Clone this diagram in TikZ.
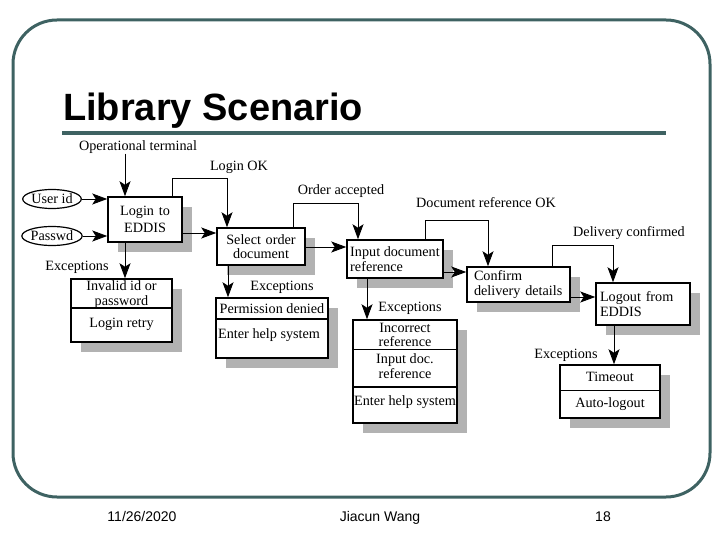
\documentclass[tikz,border=0pt]{standalone}
\usepackage{fontspec}
\setmainfont{Liberation Serif}
\setsansfont{Liberation Sans}
\usepackage{tikz}
\usetikzlibrary{arrows.meta,shapes.geometric,shadows}
\definecolor{slate}{RGB}{62,98,98}
\definecolor{shade}{RGB}{178,178,178}
\newcommand{\dfont}{\fontsize{14.2}{14.5}\selectfont}

\begin{document}
\begin{tikzpicture}[x=1pt,y=-1pt,>={Stealth[length=15pt,width=11pt,inset=3.5pt]},
  stage/.style={draw,line width=1.5pt,fill=white,inner xsep=4pt,inner ysep=0pt,font=\dfont,
    drop shadow={shadow xshift=10pt,shadow yshift=-10pt,fill=shade,opacity=1}},
  oval/.style={draw,ellipse,line width=1.2pt,inner sep=0pt,minimum width=50pt,minimum height=19pt,font=\dfont},
  lbl/.style={inner sep=0pt,font=\dfont,align=center},
  foot/.style={anchor=base,font=\sffamily\fontsize{14}{16}\selectfont},
  flow/.style={line width=0.9pt}]
  \useasboundingbox (0,0) rectangle (720,540);
  % slide frame, heading and footer
  \draw[slate,line width=3pt,rounded corners=44pt] (13,20) rectangle (710,497);
  \draw[slate,line width=4pt] (62,133) -- (666,133);
  \node[anchor=base west,inner sep=0pt,font=\sffamily\bfseries\fontsize{38}{40}\selectfont] (title) at (63,121) {Library Scenario};
  \node[foot] (date) at (142,521) {11/26/2020};
  \node[foot] (author) at (380,521) {Jiacun Wang};
  \node[foot] (page) at (603,521) {18};

  % inputs
  \node[oval] (userid) at (52,199) {User id};
  \node[oval] (passwd) at (52,236) {Passwd};
  \node[lbl] (opterm) at (138,147) {Operational terminal};

  % main stages
  \node[stage,text width=66pt,minimum height=45pt,align=center] (login) at (145,219.5) {Login to\\[3pt]EDDIS};
  \node[stage,text width=80pt,minimum height=37pt,align=center] (select) at (261,246.5) {Select order\\document};
  \node[stage,inner xsep=2pt,minimum width=96pt,minimum height=38pt,align=left] (input) at (395,259) {Input document\\reference};
  \node[stage,inner xsep=7pt,text width=89pt,minimum height=35pt,align=left] (confirm) at (518.5,284.5) {Confirm\\delivery details};
  \node[stage,text width=86pt,minimum height=42pt,align=left] (logout) at (643,304) {Logout from\\EDDIS};

  % exception boxes
  \node[stage,minimum width=101pt,minimum height=63pt] (invalid) at (121.5,310.5) {};
  \node[stage,minimum width=112pt,minimum height=60pt] (perm) at (272,328) {};
  \node[stage,minimum width=104pt,minimum height=103pt] (wrongref) at (405,371.5) {};
  \node[stage,minimum width=100pt,minimum height=53pt] (timeout) at (610,391.5) {};

  \draw[line width=1.5pt] (invalid.west |- 0,308) -- (invalid.east |- 0,308);
  \draw[line width=1.5pt] (perm.west |- 0,319) -- (perm.east |- 0,319);
  \draw[line width=0.8pt] (wrongref.west |- 0,349) -- (wrongref.east |- 0,349);
  \draw[line width=1.5pt] (wrongref.west |- 0,387) -- (wrongref.east |- 0,387);
  \draw[line width=0.8pt] (timeout.west |- 0,390) -- (timeout.east |- 0,390);

  \node[lbl] (invalidTxt) at (121.5,294.5) {Invalid id or\\password};
  \node[lbl] (retryTxt) at (121.5,324) {Login retry};
  \node[lbl] (permTxt) at (272,309) {Permission denied};
  \node[lbl,anchor=west] (helpA) at (218,335) {Enter help system};
  \node[lbl] (wrongTxt) at (405,335) {Incorrect\\reference};
  \node[lbl] (redoTxt) at (405,366) {Input doc.\\reference};
  \node[lbl,anchor=west] (helpB) at (354,402) {Enter help system};
  \node[lbl] (timeTxt) at (610,377) {Timeout};
  \node[lbl] (autoTxt) at (610,404) {Auto-logout};

  % labels on the connectors
  \node[lbl] (okLbl) at (239,167) {Login OK};
  \node[lbl] (acceptLbl) at (341,191) {Order accepted};
  \node[lbl] (refokLbl) at (486,203) {Document reference OK};
  \node[lbl] (deliverLbl) at (629,233) {Delivery confirmed};
  \foreach \n/\x/\y in {1/77/267, 2/282/287, 3/410/308, 4/566/355}
    \node[lbl] (exc\n) at (\x,\y) {Exceptions};

  % connectors
  \draw[->,flow] (userid) -- (userid -| login.west);
  \draw[->,flow] (passwd) -- (passwd -| login.west);
  \draw[->,flow] (opterm.south -| 125,0) -- (login.north -| 125,0);
  \foreach \from/\to/\y in {login/select/233, select/input/247, input/confirm/272, confirm/logout/297}
    \draw[->,flow] (\from.east |- 0,\y) -- (\to.west |- 0,\y);
  \foreach \from/\to/\up/\down/\ytop in {login/select/172/227/178, select/input/293/358/203,
      input/confirm/425/488/220, confirm/logout/552/613/245}
    \draw[->,flow] (\from.north -| \up,0) |- (\down,\ytop) -- (\to.north -| \down,0);
  \foreach \from/\to/\x in {login/invalid/125, select/perm/228, input/wrongref/367, logout/timeout/614}
    \draw[->,flow] (\from.south -| \x,0) -- (\to.north -| \x,0);
\end{tikzpicture}
\end{document}
